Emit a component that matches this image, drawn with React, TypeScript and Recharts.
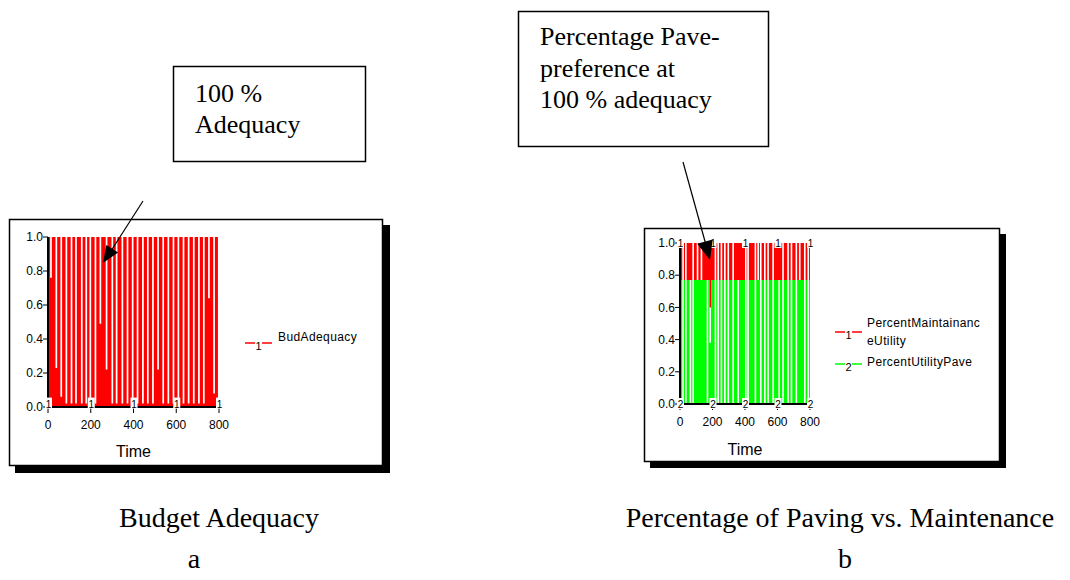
import React from "react";
import { Area, ComposedChart, Legend, Scatter, XAxis, YAxis } from "recharts";

// Chart a: BudAdequacy. The line sits at 1.0 and drops for a moment at these times.
const budgetDipTimes = [
  10, 35, 58, 82, 106, 127, 154, 175, 194, 218, 241, 270, 297, 317, 344, 368, 392,
  415, 440, 463, 487, 511, 535, 559, 583, 606, 630, 654, 678, 702, 725, 749, 773, 795,
];
const budgetDipLevels = [
  0.76, 0.23, 0.06, 0.02, 0.02, 0.02, 0.02, 0.02, 0.02, 0.02, 0.49, 0.22, 0.02, 0.02,
  0.02, 0.02, 0.02, 0.02, 0.02, 0.02, 0.02, 0.22, 0.02, 0.02, 0.02, 0.02, 0.02, 0.02,
  0.02, 0.02, 0.02, 0.64, 0.08, 0.02,
];
const budgetStart = 0.48;
const budgetStartUntil = 4;
const budgetTop = 1.0;

// Chart b: PercentUtilityPave under PercentMaintainanceUtility
const paveLevel = 0.77;
const fullLevel = 1.0;
const splitDipTimes = [
  14, 31, 59, 76, 103, 127, 164, 181, 213, 230, 250, 271, 292, 322, 353, 400, 414,
  459, 476, 492, 517, 537, 568, 605, 629, 660, 681, 711, 732, 763, 784,
];
const maintDipTop = [
  0.77, 0.77, 1, 0.77, 0.77, 0.77, 1, 1, 0.77, 0.77, 0.77, 0.77, 0.77, 0.77, 1, 0.77,
  0.77, 0.77, 0.77, 0.77, 0.77, 0.77, 0.77, 1, 0.77, 0.77, 0.77, 0.77, 0.77, 0.77, 0.77,
];
const maintDipLow = [
  0.77, 0.77, 0.77, 0.77, 0.77, 0.77, 0.77, 0.6, 0.77, 0.77, 0.77, 0.77, 0.77, 0.77,
  0.77, 0.77, 0.77, 0.77, 0.77, 0.77, 0.77, 0.77, 0.77, 0.77, 0.77, 0.77, 0.77, 0.77,
  0.77, 0.77, 0.77,
];
const paveDipTop = [
  0, 0, 0, 0, 0.77, 0.77, 0, 0.38, 0, 0, 0, 0, 0, 0, 0, 0, 0, 0, 0.77, 0, 0, 0, 0, 0,
  0, 0, 0, 0, 0.77, 0, 0,
];

const timeTicks = [0, 200, 400, 600, 800];
const fractionTicks = [0, 0.2, 0.4, 0.6, 0.8, 1.0];
const labelTimes = [0, 200, 400, 600, 800];

const BUDGET_NAME = "BudAdequacy";
const MAINT_NAME = "PercentMaintainanceUtility";
const PAVE_NAME = "PercentUtilityPave";
const RED = "#ff0000";
const GREEN = "#00ff00";
const LEFT_DIP_SPAN = 8;
const RIGHT_DIP_SPAN = 10;

const tickStyle = { fill: "#000", fontSize: 12, fontFamily: "Liberation Sans" };
const axisStyle = { stroke: "#000", strokeWidth: 2 };
const legendFont: React.CSSProperties = {
  fontFamily: "Liberation Sans",
  fontSize: 12,
  letterSpacing: 0.4,
  lineHeight: "18px",
  color: "#000",
  whiteSpace: "nowrap",
};

function buildBudgetRows() {
  const rows = [
    { t: 0, budget: budgetStart },
    { t: budgetStartUntil, budget: budgetTop },
  ];
  budgetDipTimes.forEach((t, i) => {
    rows.push({ t, budget: budgetDipLevels[i] });
    rows.push({ t: Math.min(t + LEFT_DIP_SPAN, 800), budget: budgetTop });
  });
  rows.push({ t: 800, budget: budgetTop });
  return rows;
}

function buildSplitRows() {
  const rows: { t: number; maint: number[]; pave: number }[] = [
    { t: 0, maint: [paveLevel, fullLevel], pave: paveLevel },
  ];
  splitDipTimes.forEach((t, i) => {
    rows.push({ t, maint: [maintDipLow[i], maintDipTop[i]], pave: paveDipTop[i] });
    rows.push({ t: Math.min(t + RIGHT_DIP_SPAN, 800), maint: [paveLevel, fullLevel], pave: paveLevel });
  });
  rows.push({ t: 800, maint: [paveLevel, fullLevel], pave: paveLevel });
  return rows;
}

const budgetRows = buildBudgetRows();
const splitRows = buildSplitRows();
const budgetMarks = labelTimes.map((t) => ({ t, v: 0.02 }));
const maintMarks = labelTimes.map((t) => ({ t, v: fullLevel }));
const paveMarks = labelTimes.map((t) => ({ t, v: 0 }));

// Stella puts the series number in a little white box along the line
const seriesDigit = (digit: string) => (props: any) => {
  const { cx, cy } = props;
  return (
    <g>
      <rect x={cx - 3} y={cy - 6} width={7} height={11} fill="#fff" />
      <text x={cx + 0.5} y={cy + 4} textAnchor="middle" fontSize={10} fontFamily="Liberation Sans" fill="#000">
        {digit}
      </text>
    </g>
  );
};

function LegendKey({ color, digit, top }: { color: string; digit: string; top: number }) {
  return (
    <svg width={28} height={22} style={{ position: "absolute", left: 0, top }}>
      <line x1={0} y1={13} x2={10} y2={13} stroke={color} strokeWidth={1.5} />
      <line x1={17} y1={13} x2={27} y2={13} stroke={color} strokeWidth={1.5} />
      <text x={13.5} y={20} textAnchor="middle" fontSize={11} fontFamily="Liberation Sans" fill="#000">
        {digit}
      </text>
    </svg>
  );
}

function BudgetLegend() {
  return (
    <div style={{ position: "relative", width: 150, height: 30 }}>
      <LegendKey color={RED} digit="1" top={0} />
      <div style={{ ...legendFont, position: "absolute", left: 33, top: -2 }}>{BUDGET_NAME}</div>
    </div>
  );
}

function SplitLegend() {
  return (
    <div style={{ position: "relative", width: 160, height: 70 }}>
      <LegendKey color={RED} digit="1" top={10} />
      <div style={{ ...legendFont, position: "absolute", left: 32, top: 5 }}>
        {MAINT_NAME.slice(0, 18)}
        <br />
        {MAINT_NAME.slice(18)}
      </div>
      <LegendKey color={GREEN} digit="2" top={42} />
      <div style={{ ...legendFont, position: "absolute", left: 32, top: 44 }}>{PAVE_NAME}</div>
    </div>
  );
}

function BudgetChart() {
  return (
    <div style={{ position: "absolute", left: 10, top: 220 }}>
      <ComposedChart width={380} height={245} data={budgetRows} margin={{ top: 17, right: 171, bottom: 0, left: 0 }}>
        <XAxis
          dataKey="t"
          type="number"
          domain={[0, 800]}
          ticks={timeTicks}
          interval={0}
          height={58}
          tick={tickStyle}
          tickMargin={7}
          axisLine={axisStyle}
          tickLine={{ stroke: "#000" }}
          label={{ value: "Time", position: "insideBottom", offset: 8, fill: "#000", fontSize: 16, fontFamily: "Liberation Sans" }}
        />
        <YAxis
          type="number"
          domain={[0, 1]}
          ticks={fractionTicks}
          interval={0}
          width={38}
          tickSize={5}
          tickMargin={0}
          tick={tickStyle}
          tickFormatter={(v: number) => v.toFixed(1)}
          axisLine={axisStyle}
          tickLine={{ stroke: "#000" }}
        />
        <Area
          name={BUDGET_NAME}
          dataKey="budget"
          type="stepAfter"
          stroke="none"
          fill={RED}
          fillOpacity={1}
          isAnimationActive={false}
        />
        <Scatter data={budgetMarks} dataKey="v" shape={seriesDigit("1")} legendType="none" isAnimationActive={false} />
        <Legend
          layout="vertical"
          align="center"
          verticalAlign="middle"
          content={() => <BudgetLegend />}
          wrapperStyle={{ left: 235, top: 110, width: 150 }}
        />
      </ComposedChart>
    </div>
  );
}

function SplitChart() {
  return (
    <div style={{ position: "absolute", left: 645, top: 229 }}>
      <ComposedChart width={354} height={232} data={splitRows} margin={{ top: 14, right: 189, bottom: 0, left: 0 }}>
        <XAxis
          dataKey="t"
          type="number"
          domain={[0, 800]}
          ticks={timeTicks}
          interval={0}
          height={57}
          tick={tickStyle}
          tickMargin={7}
          axisLine={axisStyle}
          tickLine={{ stroke: "#000" }}
          label={{ value: "Time", position: "insideBottom", offset: 6, fill: "#000", fontSize: 16, fontFamily: "Liberation Sans" }}
        />
        <YAxis
          type="number"
          domain={[0, 1]}
          ticks={fractionTicks}
          interval={0}
          width={35}
          tickSize={5}
          tickMargin={0}
          tick={tickStyle}
          tickFormatter={(v: number) => v.toFixed(1)}
          axisLine={axisStyle}
          tickLine={{ stroke: "#000" }}
        />
        <Area
          name={MAINT_NAME}
          dataKey="maint"
          type="stepAfter"
          stroke="none"
          fill={RED}
          fillOpacity={1}
          isAnimationActive={false}
        />
        <Area
          name={PAVE_NAME}
          dataKey="pave"
          type="stepAfter"
          stroke="none"
          fill={GREEN}
          fillOpacity={1}
          isAnimationActive={false}
        />
        <Scatter data={maintMarks} dataKey="v" shape={seriesDigit("1")} legendType="none" isAnimationActive={false} />
        <Scatter data={paveMarks} dataKey="v" shape={seriesDigit("2")} legendType="none" isAnimationActive={false} />
        <Legend
          layout="vertical"
          align="center"
          verticalAlign="middle"
          content={() => <SplitLegend />}
          wrapperStyle={{ left: 190, top: 80, width: 160 }}
        />
      </ComposedChart>
    </div>
  );
}

function arrowHead(x1: number, y1: number, x2: number, y2: number, len: number, half: number) {
  const d = Math.hypot(x2 - x1, y2 - y1);
  const ux = (x2 - x1) / d;
  const uy = (y2 - y1) / d;
  const bx = x2 - ux * len;
  const by = y2 - uy * len;
  return `${x2},${y2} ${bx - uy * half},${by + ux * half} ${bx + uy * half},${by - ux * half}`;
}

const serif = "Liberation Serif";

export default function App() {
  return (
    <div style={{ position: "absolute", left: 0, top: 0, width: 1070, height: 580, background: "#fff", overflow: "hidden" }}>
      {/* panel frames with their drop shadows */}
      <svg width={1070} height={580} style={{ position: "absolute", left: 0, top: 0 }}>
        <rect x={15} y={225} width={375} height={248} fill="#000" />
        <rect x={9.5} y={219.5} width={373} height={246} fill="#fff" stroke="#000" strokeWidth={1.5} />
        <rect x={650} y={234} width={356} height={234} fill="#000" />
        <rect x={644.5} y={228.5} width={355} height={233} fill="#fff" stroke="#000" strokeWidth={1.5} />
      </svg>

      <BudgetChart />
      <SplitChart />

      {/* callouts and captions */}
      <svg width={1070} height={580} style={{ position: "absolute", left: 0, top: 0, pointerEvents: "none" }}>
        <rect x={173.5} y={66.5} width={192} height={95} fill="#fff" stroke="#000" strokeWidth={1.5} />
        <text fontFamily={serif} fontSize={26} fill="#000">
          <tspan x={195} y={102}>100 %</tspan>
          <tspan x={195} y={133}>Adequacy</tspan>
        </text>
        <line x1={143} y1={201} x2={109} y2={254} stroke="#000" strokeWidth={1.2} />
        <polygon points={arrowHead(143, 201, 103, 263, 17, 7)} fill="#000" />

        <rect x={518.5} y={11.5} width={250} height={135} fill="#fff" stroke="#000" strokeWidth={1.5} />
        <text fontFamily={serif} fontSize={26} fill="#000">
          <tspan x={540} y={45}>Percentage Pave-</tspan>
          <tspan x={540} y={77}>preference at</tspan>
          <tspan x={540} y={108}>100 % adequacy</tspan>
        </text>
        <line x1={683} y1={162} x2={706} y2={245} stroke="#000" strokeWidth={1.2} />
        <polygon points={arrowHead(683, 162, 710, 260, 19, 8)} fill="#000" />

        <text x={219} y={527} textAnchor="middle" fontFamily={serif} fontSize={28} fill="#000">Budget Adequacy</text>
        <text x={194} y={568} textAnchor="middle" fontFamily={serif} fontSize={28} fill="#000">a</text>
        <text x={840} y={527} textAnchor="middle" fontFamily={serif} fontSize={28} fill="#000">Percentage of Paving vs. Maintenance</text>
        <text x={845} y={568} textAnchor="middle" fontFamily={serif} fontSize={28} fill="#000">b</text>
      </svg>
    </div>
  );
}
